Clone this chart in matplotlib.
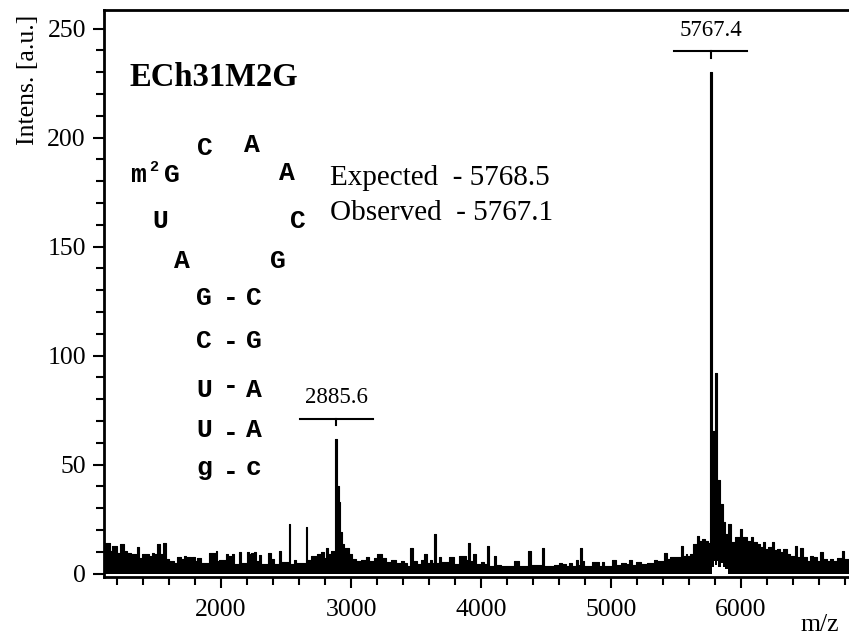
import matplotlib
matplotlib.use("Agg")
import matplotlib.pyplot as plt
from matplotlib.ticker import MultipleLocator

# ---- data ----
mz = [1105, 1146, 1164, 1197, 1223, 1254, 1279, 1305, 1344, 1356, 1369, 1395, 1420, 1446,
      1472, 1485, 1510, 1531, 1556, 1574, 1600, 1638, 1659, 1690, 1715, 1728, 1741, 1767,
      1779, 1797, 1818, 1844, 1908, 1959, 1972, 1985, 2036, 2054, 2074, 2087, 2100, 2138,
      2156, 2197, 2215, 2228,
      2254, 2267, 2292, 2305, 2362, 2387, 2408, 2446, 2459, 2520, 2531, 2561, 2574, 2651,
      2664, 2690, 2741, 2767, 2792, 2805, 2823, 2844, 2869, 2880, 2892, 2905, 2916, 2931,
      2949, 2985, 3010, 3036, 3074, 3113, 3138, 3177, 3203, 3241, 3267, 3305, 3344, 3382,
      3408, 3428, 3454, 3480, 3510, 3536, 3562, 3582, 3608, 3626, 3638, 3656, 3677, 3690,
      3754, 3792, 3831, 3882, 3900, 3915, 3941, 3959, 3997, 4023, 4049, 4061, 4100, 4115,
      4151, 4254, 4292, 4364, 4382, 4467, 4484,
      4561, 4600, 4626, 4651, 4677, 4703, 4728, 4746, 4761, 4774, 4792, 4856, 4908, 4933,
      4946, 5010, 5036, 5074, 5113, 5138, 5164, 5190, 5228, 5279, 5331, 5356, 5408, 5428,
      5454, 5541, 5556, 5574, 5587,
      5608, 5633, 5659, 5680, 5697, 5723, 5749, 5762, 5773, 5803, 5818, 5838, 5859, 5877,
      5903, 5920, 5954, 5992, 6008, 6044, 6077, 6095, 6120, 6146, 6167, 6185, 6210, 6236,
      6254, 6274, 6300, 6326, 6351, 6377, 6415, 6433, 6454, 6474, 6505, 6531, 6556, 6582,
      6608, 6633, 6659, 6684, 6710, 6736, 6774, 6792, 6830]
intensity = [14.2, 10.4, 12.7, 9.6, 13.5, 10.4, 9.6, 8.9, 8.0, 12.4, 7.3, 8.9, 9.2, 8.0,
             9.6, 8.9, 13.8, 8.9, 14.2, 6.6, 5.8, 5.0, 7.6, 6.6, 8.0, 7.3, 7.6, 6.6,
             7.6, 5.8, 7.3, 5.0, 9.6, 10.4, 5.8, 6.1, 9.2, 8.0, 4.3, 8.9, 4.3, 10.0,
             5.0, 10.0, 8.9, 9.6,
             9.8, 6.0, 8.7, 4.4, 9.3, 6.7, 4.4, 10.2, 5.2, 23.0, 4.4, 6.3, 4.7, 21.6,
             6.3, 8.3, 9.0, 9.8, 7.3, 12.0, 9.0, 10.2, 7.3, 62.0, 40.0, 33.0, 19.0, 13.6,
             12.0, 9.0, 6.7, 5.7, 6.3, 7.8, 5.9, 7.3, 9.0, 7.3, 5.2, 6.3, 4.7, 5.9,
             5.0, 3.5, 11.6, 5.8, 4.3, 6.1, 9.2, 5.0, 6.1, 5.0, 18.3, 5.0, 7.6, 5.4,
             7.6, 4.3, 8.1, 6.1, 14.2, 5.8, 9.2, 4.3, 5.4, 4.3, 12.7, 3.5, 8.1, 4.0,
             3.5, 5.8, 3.5, 10.4, 4.0, 11.9, 3.5,
             4.0, 5.0, 4.6, 3.5, 5.0, 3.5, 6.1, 4.0, 11.6, 5.8, 3.5, 5.4, 3.5, 5.4,
             3.5, 6.1, 4.0, 5.0, 4.3, 6.1, 4.0, 5.4, 4.3, 5.0, 6.1, 5.8, 9.6, 6.6,
             7.6, 12.7, 8.0, 9.2, 8.0,
             9.0, 13.6, 17.4, 15.0, 15.7, 15.0, 14.2, 230.0, 65.6, 92.0, 43.0, 32.0, 23.5, 18.0,
             22.8, 14.4, 16.7, 20.5, 16.7, 15.0, 16.7, 14.4, 13.6, 12.1, 14.4, 11.3, 12.1, 14.4,
             10.7, 11.3, 9.8, 11.3, 9.0, 8.3, 12.8, 7.5, 11.8, 7.5, 6.0, 8.3, 7.5, 6.0,
             9.8, 6.7, 6.0, 6.7, 6.0, 7.3, 10.5, 6.7, 6.7]

# white notch under the main peak (lower envelope of the trace)
dip_mz = [5778, 5790, 5800, 5812, 5826, 5842, 5860, 5880, 5900]
dip_low = [3.0, 6.0, 4.0, 6.0, 3.0, 5.0, 3.0, 2.0, 0.0]

peak_pos = [2886, 5767]
peak_labels = ["2885.6", "5767.4"]
peak_bar_y = [71.0, 239.5]

sample_name = "ECh31M2G"
expected_txt = "Expected  - 5768.5"
observed_txt = "Observed  - 5767.1"

# hairpin letters: (text, x_px, baseline_y_px)
loop_letters = [("C", 205, 155), ("A", 252, 152), ("A", 287, 180),
                ("U", 160, 228), ("C", 298, 228), ("A", 182, 268), ("G", 278, 268)]
stem_pairs = [("G", "C", 305), ("C", "G", 348), ("U", "A", 397), ("U", "A", 437), ("g", "c", 475)]
stem_dash_y = [298, 342, 386, 433, 472]

W, H = 849, 640
SERIF = "Liberation Serif"
MONO = "Liberation Mono"

fig = plt.figure(figsize=(W / 100, H / 100), dpi=100)
ax = fig.add_axes([104 / W, (H - 577) / H, 1 - 104 / W, (577 - 10) / H])

ax.fill_between(mz, 0, intensity, step="post", color="black", lw=0)
ax.step(mz, intensity, where="post", color="black", lw=0.8)
ax.fill_between(dip_mz, 0, dip_low, step="post", color="white", lw=0)

ax.set_xlim(1100, 6830)
ax.set_ylim(-1.5, 258.5)

for s in ["top", "left", "bottom"]:
    ax.spines[s].set_linewidth(2.0)
ax.spines["right"].set_visible(False)

ax.xaxis.set_major_locator(MultipleLocator(1000))
ax.xaxis.set_minor_locator(MultipleLocator(200))
ax.yaxis.set_major_locator(MultipleLocator(50))
ax.yaxis.set_minor_locator(MultipleLocator(10))
ax.tick_params(axis="both", which="major", direction="out", length=8, width=1.5,
               labelsize=18.5, pad=5)
ax.tick_params(axis="both", which="minor", direction="out", length=6, width=1.5)
ax.tick_params(axis="x", which="major", pad=8)
for lab in ax.get_xticklabels() + ax.get_yticklabels():
    lab.set_fontfamily(SERIF)

# peak annotations
for p, lab, by in zip(peak_pos, peak_labels, peak_bar_y):
    ax.plot([p - 280, p + 280], [by, by], color="black", lw=1.5)
    ax.plot([p, p], [by, by - 2.8], color="black", lw=1.5)
    ax.text(p, by + 5, lab, ha="center", va="bottom", fontsize=16.5, family=SERIF)


def ftext(x, y, s, **kw):
    fig.text(x / W, 1 - y / H, s, **kw)


ftext(28, 80, "Intens. [a.u.]", rotation=90, ha="center", va="center",
      fontsize=18.5, family=SERIF)
ftext(820, 625, "m/z", ha="center", va="center", fontsize=18.5, family=SERIF)

ftext(130, 86, sample_name, ha="left", va="baseline", fontsize=23.5, family=SERIF,
      fontweight="bold")
ftext(330, 185, expected_txt, ha="left", va="baseline", fontsize=21, family=SERIF)
ftext(330, 220, observed_txt, ha="left", va="baseline", fontsize=21, family=SERIF)

lk = dict(ha="center", va="baseline", fontsize=19, family=MONO, fontweight="bold")
for t, x, y in loop_letters:
    ftext(x, y, t, **lk)
ftext(138, 182, "m", **lk)
ftext(154, 171, "2", ha="center", va="baseline", fontsize=11, family=MONO, fontweight="bold")
ftext(172, 182, "G", **lk)
for (a, b, y), dy in zip(stem_pairs, stem_dash_y):
    ftext(204, y, a, **lk)
    ftext(254, y, b, **lk)
    ftext(231, dy, "-", ha="center", va="center", fontsize=19, family=MONO,
          fontweight="bold")

fig.savefig("out.png", dpi=100)
